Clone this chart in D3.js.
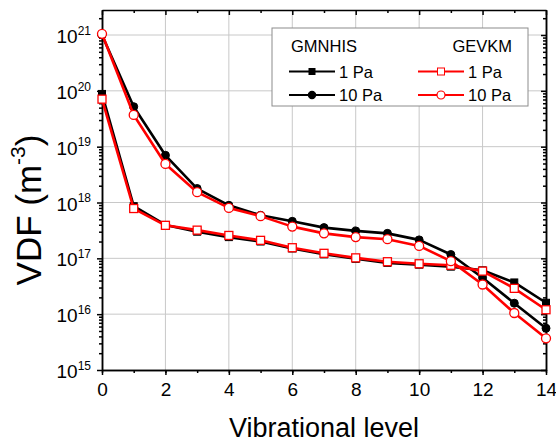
<!DOCTYPE html>
<html>
<head>
<meta charset="utf-8">
<script src="https://cdn.jsdelivr.net/npm/d3@7"></script>
<style>
  body { margin: 0; background: #fff; }
  svg { display: block; font-family: "Liberation Sans", Arial, sans-serif; }
  .grid line { stroke: #c8c8c8; stroke-width: 1; }
  .frame path, .frame line { stroke: #000; stroke-width: 1.5; }
  .tick-label { font-size: 19px; fill: #000; }
</style>
</head>
<body>
<div id="wrapper"></div>
<script>
// vibrational levels (x)
const levels = [0, 1, 2, 3, 4, 5, 6, 7, 8, 9, 10, 11, 12, 13, 14]

// GMNHIS model, VDF in m^-3
const gmnhis1Pa = [8.8e19, 8.6e17, 3.96e17, 3.0e17, 2.4e17, 2.0e17, 1.5e17, 1.18e17, 9.8e16, 8.3e16, 7.7e16, 7.1e16, 6.1e16, 3.7e16, 1.6e16]
const gmnhis10Pa = [1.0e21, 5.2e19, 7.0e18, 1.78e18, 8.9e17, 5.9e17, 4.6e17, 3.55e17, 3.1e17, 2.8e17, 2.14e17, 1.17e17, 4.5e16, 1.57e16, 5.6e15]

// GEVKM model
const gevkm1Pa = [7.1e19, 7.8e17, 3.9e17, 3.2e17, 2.57e17, 2.1e17, 1.55e17, 1.23e17, 1.02e17, 8.7e16, 8.0e16, 7.5e16, 5.9e16, 2.9e16, 1.2e16]
const gevkm10Pa = [1.05e21, 3.7e19, 4.9e18, 1.53e18, 8.0e17, 5.7e17, 3.7e17, 2.8e17, 2.4e17, 2.2e17, 1.67e17, 8.9e16, 3.4e16, 1.05e16, 3.7e15]

const xTicks = [0, 2, 4, 6, 8, 10, 12, 14]
const yExponents = [15, 16, 17, 18, 19, 20, 21]

const seriesList = [
  { name: "1 Pa", model: "GMNHIS", values: gmnhis1Pa, color: "#000", marker: "square", filled: true },
  { name: "10 Pa", model: "GMNHIS", values: gmnhis10Pa, color: "#000", marker: "circle", filled: true },
  { name: "1 Pa", model: "GEVKM", values: gevkm1Pa, color: "#ff0000", marker: "square", filled: false },
  { name: "10 Pa", model: "GEVKM", values: gevkm10Pa, color: "#ff0000", marker: "circle", filled: false },
]

function drawChart() {
  let dimensions = {
    width: 556,
    height: 443,
    margin: { top: 10, right: 10, bottom: 73, left: 102 },
  }
  dimensions.boundedWidth = dimensions.width - dimensions.margin.left - dimensions.margin.right
  dimensions.boundedHeight = dimensions.height - dimensions.margin.top - dimensions.margin.bottom

  const svg = d3.select("#wrapper").append("svg")
    .attr("width", dimensions.width)
    .attr("height", dimensions.height)

  const bounds = svg.append("g")
    .attr("transform", `translate(${dimensions.margin.left},${dimensions.margin.top})`)

  // scales
  const xScale = d3.scaleLinear()
    .domain([0, 14])
    .range([0, dimensions.boundedWidth])

  const yScale = d3.scaleLog()
    .domain([1e15, Math.pow(10, 21.448)])
    .range([dimensions.boundedHeight, 0])

  const majorY = yExponents.map(e => Math.pow(10, e))
  const minorY = []
  yExponents.forEach(e => {
    for (let k = 2; k <= 9; k++) {
      const v = k * Math.pow(10, e)
      if (v < yScale.domain()[1]) minorY.push(v)
    }
  })

  // grid
  const grid = bounds.append("g").attr("class", "grid")
  grid.selectAll(".vgrid")
    .data(xTicks.filter(d => d > 0 && d < 14))
    .join("line")
    .attr("x1", d => xScale(d)).attr("x2", d => xScale(d))
    .attr("y1", 0).attr("y2", dimensions.boundedHeight)
  grid.selectAll(".hgrid")
    .data(majorY.filter(d => d > 1e15))
    .join("line")
    .attr("x1", 0).attr("x2", dimensions.boundedWidth)
    .attr("y1", d => yScale(d)).attr("y2", d => yScale(d))

  // axes (frame on all four sides)
  const noLabel = () => ""
  bounds.append("g").attr("class", "frame")
    .attr("transform", `translate(0,${dimensions.boundedHeight})`)
    .call(d3.axisBottom(xScale).tickValues(levels).tickSize(3).tickSizeOuter(0).tickFormat(noLabel))
  const bottomMajor = bounds.append("g").attr("class", "frame")
    .attr("transform", `translate(0,${dimensions.boundedHeight})`)
    .call(d3.axisBottom(xScale).tickValues(xTicks).tickSize(5).tickSizeOuter(0).tickPadding(8))
  bottomMajor.selectAll("text")
    .attr("class", "tick-label")
    .attr("font-family", null).attr("font-size", null)

  bounds.append("g").attr("class", "frame")
    .call(d3.axisTop(xScale).tickValues(levels).tickSize(-3).tickSizeOuter(0).tickFormat(noLabel))
    .selectAll(".tick line").filter(d => d % 2 === 0).attr("y2", 5)

  bounds.append("g").attr("class", "frame")
    .call(d3.axisLeft(yScale).tickValues(minorY).tickSize(3).tickSizeOuter(0).tickFormat(noLabel))
  const leftMajor = bounds.append("g").attr("class", "frame")
    .call(d3.axisLeft(yScale).tickValues(majorY).tickSize(5).tickSizeOuter(0).tickPadding(6))
  leftMajor.selectAll("text")
    .attr("class", "tick-label")
    .attr("font-family", null).attr("font-size", null)
    .attr("dy", "0.4em")
    .text(null)
    .each(function (d) {
      const t = d3.select(this)
      t.append("tspan").text("10")
      t.append("tspan").attr("font-size", "12px").attr("dy", "-0.7em").text(Math.round(Math.log10(d)))
    })

  bounds.append("g").attr("class", "frame")
    .attr("transform", `translate(${dimensions.boundedWidth},0)`)
    .call(d3.axisRight(yScale).tickValues(minorY).tickSize(-3).tickSizeOuter(0).tickFormat(noLabel))
  bounds.append("g").attr("class", "frame")
    .attr("transform", `translate(${dimensions.boundedWidth},0)`)
    .call(d3.axisRight(yScale).tickValues(majorY).tickSize(-5).tickSizeOuter(0).tickFormat(noLabel))

  // data
  const lineGenerator = d3.line()
    .x((d, i) => xScale(levels[i]))
    .y(d => yScale(d))

  function drawMarkers(g, s) {
    const pts = g.selectAll(".pt")
      .data(s.values)
      .join(s.marker === "square" ? "rect" : "circle")
      .attr("fill", s.filled ? s.color : "#fff")
      .attr("stroke", s.color)
      .attr("stroke-width", s.filled ? 1 : 1.3)
    if (s.marker === "square") {
      const size = s.filled ? 7 : 8
      pts.attr("x", (d, i) => xScale(levels[i]) - size / 2)
        .attr("y", d => yScale(d) - size / 2)
        .attr("width", size).attr("height", size)
    } else {
      pts.attr("cx", (d, i) => xScale(levels[i]))
        .attr("cy", d => yScale(d))
        .attr("r", s.filled ? 4 : 4.5)
    }
  }

  seriesList.forEach(s => {
    const g = bounds.append("g")
    g.append("path")
      .attr("d", lineGenerator(s.values))
      .attr("fill", "none")
      .attr("stroke", s.color)
      .attr("stroke-width", 2.6)
      .attr("stroke-linejoin", "round")
    drawMarkers(g, s)
  })

  // axis titles
  svg.append("text")
    .attr("x", dimensions.margin.left + dimensions.boundedWidth / 2)
    .attr("y", 437)
    .attr("text-anchor", "middle")
    .style("font-size", "27px")
    .text("Vibrational level")

  const yTitle = svg.append("text")
    .attr("transform", `translate(41,${dimensions.margin.top + 200}) rotate(-90)`)
    .attr("text-anchor", "middle")
    .style("font-size", "35px")
  yTitle.append("tspan").text("VDF (m")
  yTitle.append("tspan").attr("font-size", "21px").attr("dy", "-0.75em").text("-3")
  yTitle.append("tspan").attr("dy", "0.45em").text(")")

  // legend
  const legend = svg.append("g")
  legend.append("rect")
    .attr("x", 272).attr("y", 28)
    .attr("width", 256).attr("height", 78)
    .attr("fill", "#fff")
    .attr("stroke", "#8c8c8c")
    .attr("stroke-width", 1)

  legend.append("text").attr("x", 291).attr("y", 52)
    .style("font-size", "16.5px").text("GMNHIS")
  legend.append("text").attr("x", 512).attr("y", 52)
    .attr("text-anchor", "end")
    .style("font-size", "16.5px").text("GEVKM")

  const legendCols = { GMNHIS: 289, GEVKM: 418 }
  seriesList.forEach(s => {
    const x0 = legendCols[s.model]
    const y0 = s.name === "1 Pa" ? 71.5 : 95
    const item = legend.append("g")
    item.append("line")
      .attr("x1", x0).attr("x2", x0 + 46)
      .attr("y1", y0).attr("y2", y0)
      .attr("stroke", s.color).attr("stroke-width", 2.2)
    if (s.marker === "square") {
      const size = s.filled ? 6 : 7
      item.append("rect")
        .attr("x", x0 + 23 - size / 2).attr("y", y0 - size / 2)
        .attr("width", size).attr("height", size)
        .attr("fill", s.filled ? s.color : "#fff").attr("stroke", s.color)
    } else {
      item.append("circle")
        .attr("cx", x0 + 23).attr("cy", y0)
        .attr("r", s.filled ? 3.6 : 4)
        .attr("fill", s.filled ? s.color : "#fff").attr("stroke", s.color).attr("stroke-width", 1.2)
    }
    item.append("text")
      .attr("x", x0 + 50).attr("y", y0 + 6)
      .style("font-size", "16.5px")
      .text(s.name)
  })
}
drawChart()
</script>
</body>
</html>
